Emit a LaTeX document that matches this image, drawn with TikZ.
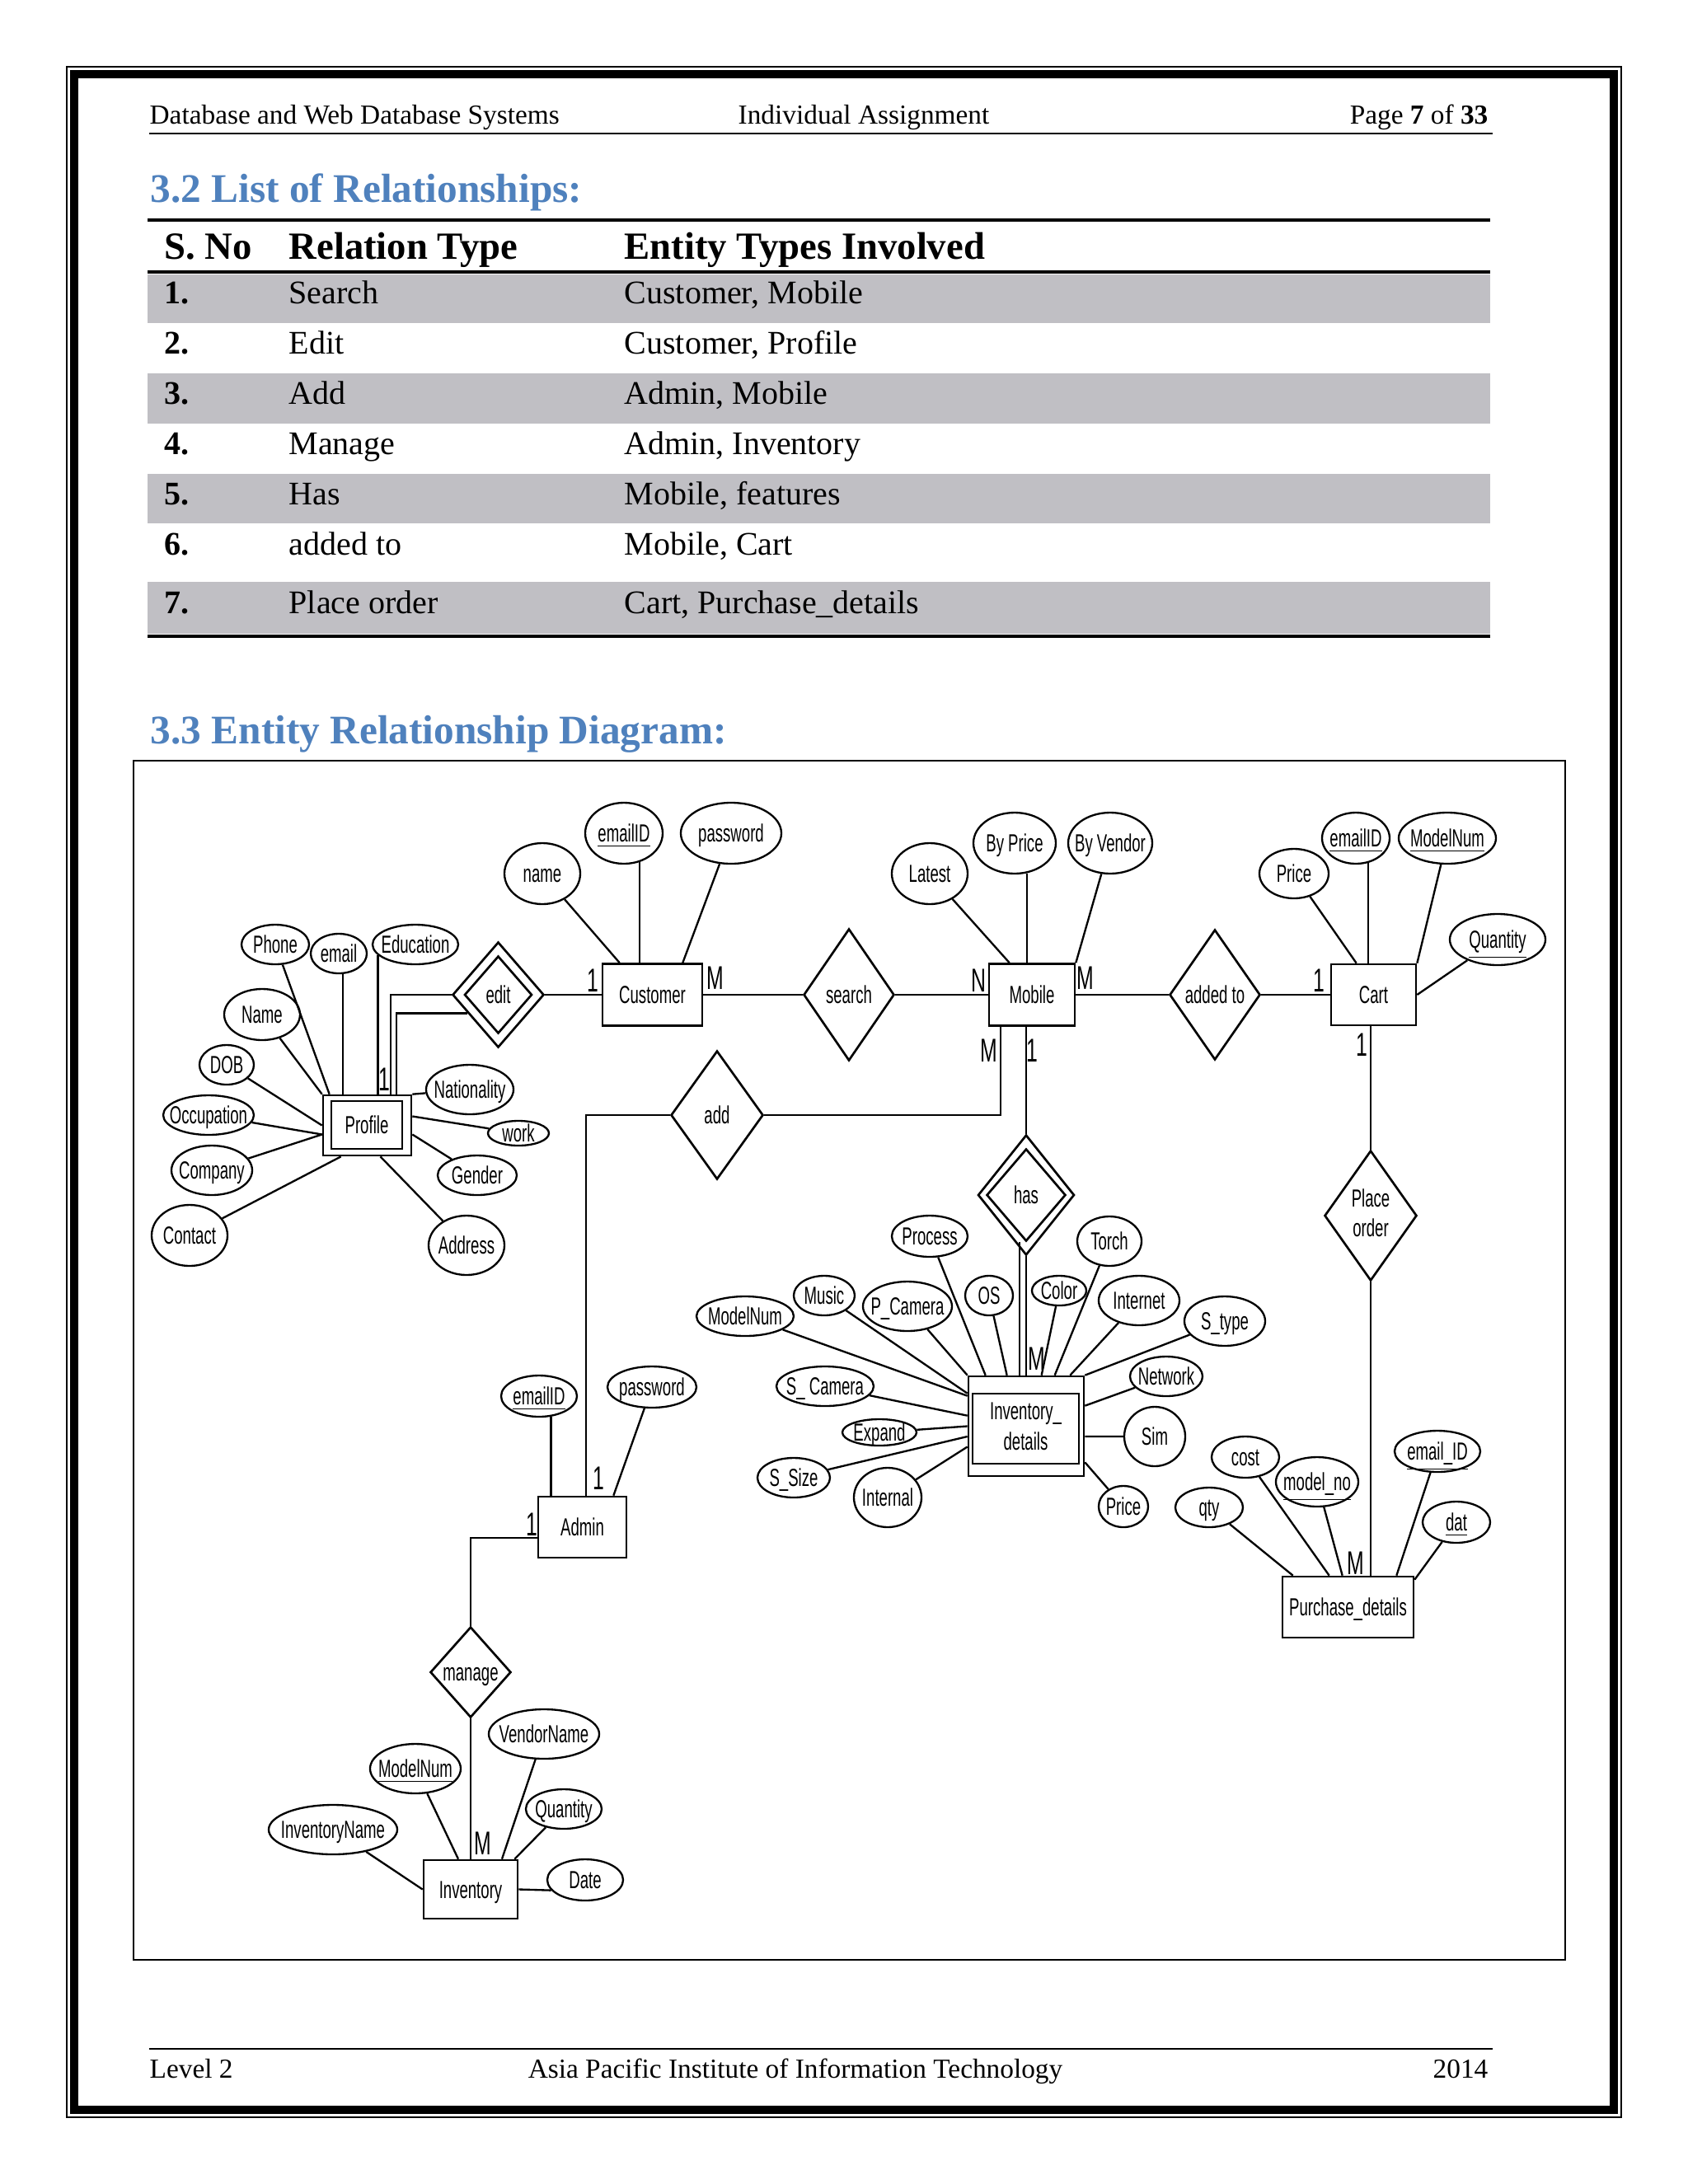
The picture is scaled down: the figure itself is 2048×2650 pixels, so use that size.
\documentclass[tikz,border=0pt]{standalone}
\usepackage{fontspec}
\setmainfont{Liberation Serif}
\newfontfamily\erfont[FakeStretch=0.62]{Liberation Sans}
\usetikzlibrary{shapes.geometric}
\definecolor{headblue}{RGB}{79,129,189}
\definecolor{rowgray}{RGB}{192,191,196}
\newcommand\ctr[1]{\smash{\raisebox{-0.36em}{\makebox[0pt]{#1}}}}
\newcommand\ctrm[1]{\smash{\raisebox{-0.25em}{\makebox[0pt]{\begin{tabular}{@{}c@{}}#1\end{tabular}}}}}
\tikzset{
  attr/.style={ellipse, draw, line width=0.7pt, inner sep=0pt, font=\erfont\fontsize{9}{11}\selectfont},
  ent/.style={rectangle, draw, line width=0.8pt, inner sep=0pt, font=\erfont\fontsize{9}{11}\selectfont},
  rel/.style={diamond, draw, line width=0.8pt, inner sep=0pt, font=\erfont\fontsize{9}{11}\selectfont},
  card/.style={inner sep=0pt, font=\erfont\fontsize{12}{14}\selectfont},
  conn/.style={line width=0.7pt},
  hdr/.style={inner sep=0pt, font=\fontsize{10}{12}\selectfont},
  headtxt/.style={inner sep=0pt, anchor=base west, text=headblue, font=\fontsize{14.8}{17}\selectfont\bfseries},
  thead/.style={inner sep=0pt, anchor=base west, font=\fontsize{14}{16}\selectfont\bfseries},
  tnum/.style={inner sep=0pt, anchor=base west, font=\fontsize{12}{14}\selectfont\bfseries},
  tcell/.style={inner sep=0pt, anchor=base west, font=\fontsize{12}{14}\selectfont}
}
\newcommand\erAtt[5]{\node[attr,minimum width={#3*0.6pt},minimum height={#4*0.6pt}] (#1) at (#2) {\ctr{#5}};}
\newcommand\erEnt[5]{\node[ent,minimum width={#3*0.3pt},minimum height={#4*0.3pt}] (#1) at (#2) {\ctr{#5}};}
\newcommand\erRel[5]{\node[rel,minimum width={#3*0.3pt},minimum height={#4*0.3pt}] (#1) at (#2) {\ctr{#5}};}
\newcommand\erCard[3]{\node[card] (#1) at (#2) {#3};}
\begin{document}
\begin{tikzpicture}[x=0.3pt,y=-0.3pt]
\useasboundingbox (0,0) rectangle (2048,2650);
\fill[white] (0,0) rectangle (2048,2650);
% page border
\draw[line width=0.4pt] (81,81) rectangle (1967,2569);
\draw[line width=3pt] (90,90) rectangle (1958,2560);
% header
\node[hdr,anchor=base west] (hleft) at (181,150) {Database and Web Database Systems};
\node[hdr,anchor=base] (hmid) at (1048,150) {Individual Assignment};
\node[hdr,anchor=base east] (hright) at (1806,150) {Page \textbf{7} of \textbf{33}};
\draw[line width=0.6pt] (181,162) -- (1811,162);
% heading 3.2
\node[headtxt] (h32) at (182,245) {3.2 List of Relationships:};
% table
\fill[rowgray] (179,333) rectangle (1808,392);
\fill[rowgray] (179,453) rectangle (1808,514);
\fill[rowgray] (179,575) rectangle (1808,635);
\fill[rowgray] (179,706) rectangle (1808,769);
\draw[line width=1.1pt] (179,267) -- (1808,267);
\draw[line width=1.1pt] (179,330) -- (1808,330);
\draw[line width=1.2pt] (179,772) -- (1808,772);
\node[thead] (th1) at (199,314) {S. No};
\node[thead] (th2) at (350,314) {Relation Type};
\node[thead] (th3) at (757,314) {Entity Types Involved};
\node[tnum] (n1) at (199,368) {1.};
\node[tcell] (r1) at (350,368) {Search};
\node[tcell] (e1) at (757,368) {Customer, Mobile};
\node[tnum] (n2) at (199,429) {2.};
\node[tcell] (r2) at (350,429) {Edit};
\node[tcell] (e2) at (757,429) {Customer, Profile};
\node[tnum] (n3) at (199,490) {3.};
\node[tcell] (r3) at (350,490) {Add};
\node[tcell] (e3) at (757,490) {Admin, Mobile};
\node[tnum] (n4) at (199,551) {4.};
\node[tcell] (r4) at (350,551) {Manage};
\node[tcell] (e4) at (757,551) {Admin, Inventory};
\node[tnum] (n5) at (199,612) {5.};
\node[tcell] (r5) at (350,612) {Has};
\node[tcell] (e5) at (757,612) {Mobile, features};
\node[tnum] (n6) at (199,673) {6.};
\node[tcell] (r6) at (350,673) {added to};
\node[tcell] (e6) at (757,673) {Mobile, Cart};
\node[tnum] (n7) at (199,744) {7.};
\node[tcell] (r7) at (350,744) {Place order};
\node[tcell] (e7) at (757,744) {Cart, Purchase\_details};
% heading 3.3
\node[headtxt] (h33) at (182,902) {3.3 Entity Relationship Diagram:};
% ER frame
\draw[line width=0.6pt] (162,923) rectangle (1899,2378);

% ===== Profile cluster =====
\erEnt{profile}{445.5,1365.5}{107}{73}{}
\erEnt{profilein}{445,1365}{86}{58}{Profile}
\erAtt{phone}{334,1146}{41}{24}{Phone}
\erAtt{pfemail}{411,1157}{34}{24}{email}
\erAtt{educ}{504,1146}{52}{24}{Education}
\erAtt{pname}{318,1231}{46}{31}{Name}
\erAtt{dob}{275,1292}{33}{24}{DOB}
\erAtt{occup}{253,1353}{55}{24}{Occupation}
\erAtt{company}{257,1420}{49}{30}{Company}
\erAtt{contact}{230,1499}{46}{37}{Contact}
\erAtt{nation}{570,1322}{53}{30}{Nationality}
\erAtt{work}{629,1375}{37}{15}{work}
\erAtt{gender}{579,1426}{48}{24}{Gender}
\erAtt{address}{566,1511}{46}{36}{Address}
\erRel{editout}{604.5,1207}{111}{128}{}
\erRel{edit}{604.5,1207}{82}{94}{edit}

% ===== Customer / Mobile / Cart =====
\erEnt{customer}{791.5,1207}{121}{75}{Customer}
\erAtt{cname}{658,1060}{46}{37}{name}
\erAtt{cemail}{757,1011}{47}{37}{\underline{emailID}}
\erAtt{cpass}{887,1011}{61}{37}{password}
\erRel{search}{1030,1207}{110}{160}{search}
\erEnt{mobile}{1252,1207}{104}{75}{Mobile}
\erAtt{latest}{1128,1060}{46}{37}{Latest}
\erAtt{byprice}{1231,1023}{50}{37}{By Price}
\erAtt{byvendor}{1347,1023}{51}{37}{By Vendor}
\erRel{addedto}{1474,1207}{110}{158}{added to}
\erEnt{cart}{1666.5,1207}{103}{74}{Cart}
\erAtt{cprice}{1570,1060}{42}{30}{Price}
\erAtt{cartemail}{1645,1017}{41}{31}{\underline{emailID}}
\erAtt{cartmodel}{1756,1017}{59}{31}{\underline{ModelNum}}
\erAtt{cartqty}{1817,1140}{58}{31}{\underline{Quantity}}

% ===== Place order / Purchase =====
\node[rel,minimum width={112*0.3pt},minimum height={158*0.3pt}] (porder) at (1663,1475) {\ctrm{Place\\order}};
\erEnt{purchase}{1635.5,1950}{159}{74}{Purchase\_details}
\erAtt{qty}{1467,1829}{41}{24}{qty}
\erAtt{cost}{1511,1768}{41}{25}{cost}
\erAtt{modelno}{1598,1798}{50}{30}{\underline{model\_no}}
\erAtt{puemail}{1744,1761}{52}{25}{\underline{email\_ID}}
\erAtt{dat}{1767,1847}{41}{25}{\underline{dat}}

% ===== add / has / Inventory_details =====
\erRel{add}{870,1353}{112}{156}{add}
\erRel{hasout}{1245,1450}{117}{146}{}
\erRel{has}{1245,1450}{96}{112}{has}
\erEnt{invdet}{1245,1730.5}{140}{121}{}
\node[ent,minimum width={129*0.3pt},minimum height={85*0.3pt}] (invdetin) at (1244.5,1733.5) {\ctrm{Inventory\_\\details}};
\erAtt{process}{1128,1500}{46}{25}{Process}
\erAtt{music}{1000,1572}{37}{24}{Music}
\erAtt{pcam}{1101,1585}{54}{30}{P\_Camera}
\erAtt{os}{1200,1572}{29}{24}{OS}
\erAtt{color}{1285,1566}{33}{18}{Color}
\erAtt{torch}{1346,1506}{39}{30}{Torch}
\erAtt{internet}{1382,1578}{49}{30}{Internet}
\erAtt{stype}{1486,1603}{49}{30}{S\_type}
\erAtt{network}{1415,1670}{44}{24}{Network}
\erAtt{sim}{1401,1743}{37}{36}{Sim}
\erAtt{dprice}{1363,1828}{30}{25}{Price}
\erAtt{dmodel}{904,1597}{59}{24}{ModelNum}
\erAtt{scam}{1001,1682}{59}{24}{S\_ Camera}
\erAtt{expand}{1067,1738}{45}{16}{Expand}
\erAtt{ssize}{963,1793}{44}{24}{S\_Size}
\erAtt{internal}{1077,1817}{41}{36}{Internal}

% ===== Admin / Inventory =====
\erEnt{admin}{706.5,1853}{107}{74}{Admin}
\erAtt{aemail}{654,1694}{46}{25}{\underline{emailID}}
\erAtt{apass}{791,1683}{54}{25}{password}
\erRel{manage}{571,2029}{98}{110}{manage}
\erEnt{inventory}{571,2292.5}{114}{71}{Inventory}
\erAtt{invname}{404,2220}{78}{30}{InventoryName}
\erAtt{invmodel}{504,2146}{55}{30}{\underline{ModelNum}}
\erAtt{vendor}{660,2104}{67}{30}{VendorName}
\erAtt{invqty}{684,2195}{46}{24}{Quantity}
\erAtt{date}{710,2281}{46}{25}{Date}

% ===== connectors =====
\draw[conn] (phone) -- ([xshift=2.7pt]profile.north west);
\draw[conn] (pfemail.-78) -- (pfemail.-78 |- profile.north);
\draw[conn] (educ.196) -- (educ.196 |- profile.north);
\draw[conn] (pname) -- (profile.north west);
\draw[conn] (dob) -- (profile.west);
\draw[conn] (occup) -- ([yshift=-3.3pt]profile.west);
\draw[conn] (company) -- ([yshift=-3.3pt]profile.west);
\draw[conn] (contact) -- ([xshift=6.9pt]profile.south west);
\draw[conn] (profile.north east) -- (nation);
\draw[conn] ([yshift=3.3pt]profile.east) -- (work);
\draw[conn] ([yshift=-3.3pt]profile.east) -- (gender);
\draw[conn] ([xshift=4.8pt]profile.south) -- (address);
\draw[conn] (editout.west) -| ([xshift=24.9pt]profile.north west);
\draw[conn] (editout.211) -| ([xshift=27pt]profile.north west);
\draw[conn] (editout.east) -- (customer.west);

\draw[conn] (cname) -- ([xshift=6.6pt]customer.north west);
\draw[conn] (cemail.-62) -- (cemail.-62 |- customer.north);
\draw[conn] (cpass) -- ([xshift=-7.5pt]customer.north east);
\draw[conn] (customer.east) -- (search.west);
\draw[conn] (search.east) -- (mobile.west);
\draw[conn] (latest) -- ([xshift=7.8pt]mobile.north west);
\draw[conn] (byprice.-68) -- (byprice.-68 |- mobile.north);
\draw[conn] (byvendor) -- (mobile.north east);
\draw[conn] (mobile.east) -- (addedto.west);
\draw[conn] (addedto.east) -- (cart.west);
\draw[conn] (cprice) -- ([xshift=9.6pt]cart.north west);
\draw[conn] (cartemail.-64) -- (cartemail.-64 |- cart.north);
\draw[conn] (cartmodel) -- (cart.north east);
\draw[conn] (cartqty) -- (cart.east);

\draw[conn] (porder.north) -- (porder.north |- cart.south);
\draw[conn] (porder.south) -- (porder.south |- purchase.north);
\draw[conn] (qty) -- ([xshift=4.2pt]purchase.north west);
\draw[conn] (cost) -- ([xshift=17.4pt]purchase.north west);
\draw[conn] (modelno) -- ([xshift=22.2pt]purchase.north west);
\draw[conn] (puemail) -- ([xshift=-6.6pt]purchase.north east);
\draw[conn] (dat) -- ([yshift=-1.5pt]purchase.north east);

\draw[conn] ([xshift=4.5pt]mobile.south west) |- (add.east);
\draw[conn] (hasout.north) -- (hasout.north |- mobile.south);
\draw[conn] (hasout.south) -- (hasout.south |- invdet.north);
\draw[conn] ([xshift=-2.4pt]has.south) -- ([xshift=-2.4pt]has.south |- invdet.north);
\draw[conn] (process) -- ([xshift=6.6pt]invdet.north west);
\draw[conn] (music) -- ([yshift=-6.6pt]invdet.north west);
\draw[conn] (pcam) -- (invdet.north west);
\draw[conn] (dmodel) -- ([yshift=-7.5pt]invdet.north west);
\draw[conn] (os) -- ([xshift=14.4pt]invdet.north west);
\draw[conn] (color) -- ([xshift=27pt]invdet.north west);
\draw[conn] (torch) -- ([xshift=31.8pt]invdet.north west);
\draw[conn] (internet) -- ([xshift=-5.4pt]invdet.north east);
\draw[conn] (stype) -- (invdet.north east);
\draw[conn] (network) -- ([yshift=-11.1pt]invdet.north east);
\draw[conn] ([yshift=-3.75pt]invdet.east) -- (sim);
\draw[conn] (dprice) -- ([yshift=5.4pt]invdet.south east);
\draw[conn] (scam) -- ([yshift=-14.7pt]invdet.north west);
\draw[conn] (expand) -- (invdet.west);
\draw[conn] (ssize) -- ([yshift=-3.75pt]invdet.west);
\draw[conn] (internal) -- ([yshift=-7.5pt]invdet.west);

\draw[conn] (add.west) -| ([xshift=17.7pt]admin.north west);
\draw[conn] (aemail.-60) -- (aemail.-60 |- admin.north);
\draw[conn] (apass) -- ([xshift=-5.1pt]admin.north east);
\draw[conn] ([yshift=-3.9pt]admin.west) -| (manage.north);
\draw[conn] (manage.south) -- (inventory.north);
\draw[conn] (invname) -- (inventory.west);
\draw[conn] (invmodel) -- ([xshift=-4.5pt]inventory.north);
\draw[conn] (vendor) -- ([xshift=11.4pt]inventory.north);
\draw[conn] (invqty) -- ([xshift=-1.5pt]inventory.north east);
\draw[conn] (inventory.east) -- (date.197);

% ===== cardinalities =====
\erCard{k1}{466,1310}{1}
\erCard{k2}{719,1190}{1}
\erCard{k3}{868,1187}{M}
\erCard{k4}{1187,1190}{N}
\erCard{k5}{1317,1187}{M}
\erCard{k6}{1600,1190}{1}
\erCard{k7}{1652,1268}{1}
\erCard{k8}{1200,1275}{M}
\erCard{k9}{1252,1275}{1}
\erCard{k10}{1258,1649}{M}
\erCard{k11}{1645,1897}{M}
\erCard{k12}{726,1794}{1}
\erCard{k13}{645,1850}{1}
\erCard{k14}{586,2237}{M}

% footer
\draw[line width=0.6pt] (181,2486) -- (1811,2486);
\node[hdr,anchor=base west] (fleft) at (181,2521) {Level 2};
\node[hdr,anchor=base] (fmid) at (965,2521) {Asia Pacific Institute of Information Technology};
\node[hdr,anchor=base east] (fright) at (1806,2521) {2014};
\end{tikzpicture}
\end{document}
